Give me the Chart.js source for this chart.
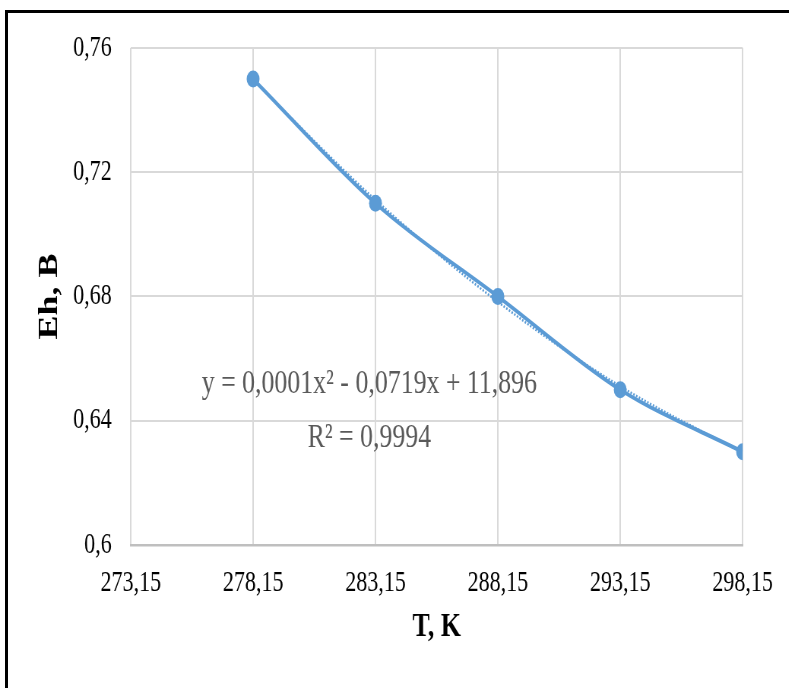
<!DOCTYPE html>
<html>
<head>
<meta charset="utf-8">
<script src="https://cdn.jsdelivr.net/npm/chart.js@4.4.0/dist/chart.umd.min.js"></script>
<style>
  html, body { margin: 0; padding: 0; background: #ffffff; overflow: hidden; }
  body { width: 789px; height: 688px; position: relative; }
  #frame { position: absolute; left: 5px; top: 10px; width: 1000px; height: 1000px;
           border-top: 3px solid #000; border-left: 3px solid #000; box-sizing: border-box; }
  #wrap { position: absolute; left: 0; top: 0; width: 1038px; height: 688px;
          transform: scaleX(0.76); transform-origin: 0 0; }
</style>
</head>
<body>
<div id="frame"></div>
<div id="wrap"><canvas id="c" width="1038" height="688"></canvas></div>
<script>
// ---- data ----
const temperatures = [278.15, 283.15, 288.15, 293.15, 298.15];
const ehValues     = [0.75, 0.71, 0.68, 0.65, 0.63];
const trendValues  = [0.7497, 0.7111, 0.6783, 0.6511, 0.6297];
const xTicks       = [273.15, 278.15, 283.15, 288.15, 293.15, 298.15];
const xTickLabels  = ['273,15', '278,15', '283,15', '288,15', '293,15', '298,15'];
const yTicks       = [0.6, 0.64, 0.68, 0.72, 0.76];
const yTickLabels  = ['0,6', '0,64', '0,68', '0,72', '0,76'];
const xTitle = 'T, K';
const yTitle = 'Eh, B';
const equationLines = ['y = 0,0001x\u00B2 - 0,0719x + 11,896', 'R\u00B2 = 0,9994'];

const lineColor = '#5b9bd5';
const serif = '"Liberation Serif", "Times New Roman", serif';

const equationPlugin = {
  id: 'equation',
  afterDatasetsDraw(chart) {
    const { ctx, scales } = chart;
    const cx = scales.x.getPixelForValue(282.9);
    const y1 = scales.y.getPixelForValue(0.6518);
    const y2 = scales.y.getPixelForValue(0.6345);
    ctx.save();
    ctx.font = '34px ' + serif;
    ctx.fillStyle = '#595959';
    ctx.textAlign = 'center';
    ctx.textBaseline = 'middle';
    ctx.fillText(equationLines[0], cx, y1);
    ctx.fillText(equationLines[1], cx, y2);
    ctx.restore();
  }
};

new Chart(document.getElementById('c'), {
  type: 'scatter',
  data: {
    datasets: [
      {
        label: 'Trend',
        data: temperatures.map((t, i) => ({ x: t, y: trendValues[i] })),
        showLine: true,
        borderColor: lineColor,
        borderWidth: 2.5,
        borderDash: [2, 2],
        pointRadius: 0,
        cubicInterpolationMode: 'monotone',
        order: 2
      },
      {
        label: 'Eh',
        data: temperatures.map((t, i) => ({ x: t, y: ehValues[i] })),
        showLine: true,
        borderColor: lineColor,
        backgroundColor: lineColor,
        borderWidth: 4,
        pointRadius: 8.5,
        pointHoverRadius: 8.5,
        pointBorderWidth: 0,
        cubicInterpolationMode: 'monotone',
        order: 1
      }
    ]
  },
  options: {
    responsive: false,
    animation: false,
    layout: { padding: { left: 0, right: 59, top: 48, bottom: 0 } },
    plugins: { legend: { display: false }, tooltip: { enabled: false } },
    scales: {
      x: {
        type: 'linear',
        min: 273.15,
        max: 298.15,
        afterBuildTicks(s) { s.ticks = xTicks.map(v => ({ value: v })); },
        afterFit(s) { s.height = 143; },
        grid: { color: '#d9d9d9', lineWidth: 2, drawTicks: false },
        border: { display: true, color: '#bfbfbf', width: 2.5 },
        ticks: {
          padding: 21,
          color: '#000',
          font: { family: serif, size: 29 },
          maxRotation: 0,
          autoSkip: false,
          callback: (v, i) => xTickLabels[i]
        },
        title: {
          display: true,
          text: xTitle,
          color: '#000',
          font: { family: serif, size: 34, weight: 'bold', lineHeight: 1.2 },
          padding: { top: 0, bottom: 40 }
        }
      },
      y: {
        min: 0.6,
        max: 0.76,
        afterBuildTicks(s) { s.ticks = yTicks.map(v => ({ value: v })); },
        afterFit(s) { s.width = 172; },
        grid: { color: '#d9d9d9', lineWidth: 2, drawTicks: false },
        border: { display: false },
        ticks: {
          padding: 25,
          color: '#000',
          font: { family: serif, size: 29 },
          autoSkip: false,
          callback: (v, i) => yTickLabels[i]
        },
        title: {
          display: true,
          text: yTitle,
          color: '#000',
          font: { family: serif, size: 36, weight: 'bold', lineHeight: 1.2 },
          padding: { top: 44, bottom: 0 }
        }
      }
    }
  },
  plugins: [equationPlugin]
});
</script>
</body>
</html>
